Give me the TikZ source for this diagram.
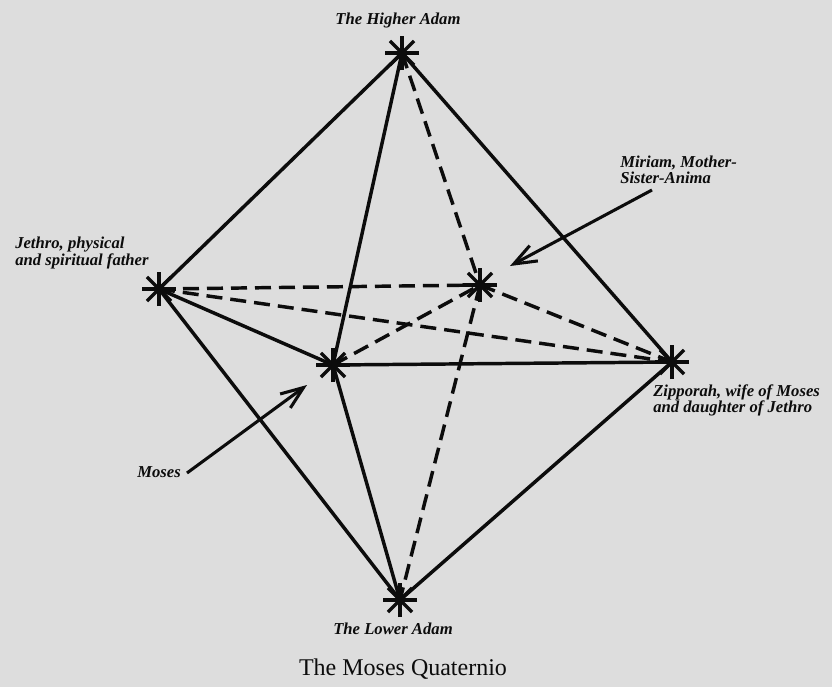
\documentclass[tikz,border=0pt]{standalone}
\usepackage{fontspec}
\setmainfont{Liberation Serif}
\usetikzlibrary{arrows.meta,calc}
\definecolor{bg}{RGB}{221,221,221}
\definecolor{ink}{RGB}{12,12,12}
\begin{document}
\begin{tikzpicture}[x=0.75pt,y=-0.75pt,
  edge/.style={ink, line width=2.6pt},
  dashedge/.style={ink, line width=2.6pt, dash pattern=on 12pt off 6pt},
  starray/.style={ink, line width=2.6pt},
  lbl/.style={font=\fontsize{12.5}{14}\selectfont\bfseries\itshape, text=ink, inner sep=0pt},
  titletext/.style={font=\fontsize{18}{21}\selectfont, text=ink, inner sep=0pt},
  pointer/.style={ink, line width=2.3pt, -{Straight Barb[length=17pt,width=13pt,line width=2.3pt]}},
]
\fill[bg] (0,0) rectangle (832,687);
\useasboundingbox (0,0) rectangle (832,687);

% vertices
\coordinate (HA) at (402,53);
\coordinate (JE) at (159,289);
\coordinate (MI) at (480,285);
\coordinate (MO) at (333,365);
\coordinate (ZI) at (672,362);
\coordinate (LA) at (400,600);

% dashed (hidden) edges
\draw[dashedge] (HA) -- (MI);
\draw[dashedge] (JE) -- (MI);
\draw[dashedge] (JE) -- (ZI);
\draw[dashedge] (MI) -- (ZI);
\draw[dashedge] (MO) -- (MI);
\draw[dashedge] (MI) -- (LA);

% solid edges
\draw[edge] (HA) -- (JE);
\draw[edge] (HA) -- (MO);
\draw[edge] (HA) -- (ZI);
\draw[edge] (JE) -- (MO);
\draw[edge] (MO) -- (ZI);
\draw[edge] (JE) -- (LA);
\draw[edge] (MO) -- (LA);
\draw[edge] (ZI) -- (LA);

% star marks
\foreach \p in {HA,JE,MI,MO,ZI,LA}{
  \foreach \a in {0,45,90,135}{
    \draw[starray] ($(\p)+(\a:17)$) -- ($(\p)+(\a+180:17)$);
  }
}

% pointer arrows
\coordinate (miS) at (652,190);
\coordinate (miT) at (510,266);
\coordinate (moS) at (187,473);
\coordinate (moT) at (307,385);
\draw[pointer] (miS) -- (miT);
\draw[pointer] (moS) -- (moT);

% labels
\node[lbl, anchor=base] (tHA) at (398,24) {The Higher Adam};
\node[lbl, anchor=base west] (tJE1) at (15,248) {Jethro, physical};
\node[lbl, anchor=base west] (tJE2) at (15,265) {and spiritual father};
\node[lbl, anchor=base west] (tMI1) at (620,167) {Miriam, Mother-};
\node[lbl, anchor=base west] (tMI2) at (620,183) {Sister-Anima};
\node[lbl, anchor=base west] (tZI1) at (653,396) {Zipporah, wife of Moses};
\node[lbl, anchor=base west] (tZI2) at (653,412) {and daughter of Jethro};
\node[lbl, anchor=base west] (tMO) at (137,477) {Moses};
\node[lbl, anchor=base] (tLA) at (393,634) {The Lower Adam};
\node[titletext, anchor=base] (title) at (403,675) {The Moses Quaternio};
\end{tikzpicture}
\end{document}
